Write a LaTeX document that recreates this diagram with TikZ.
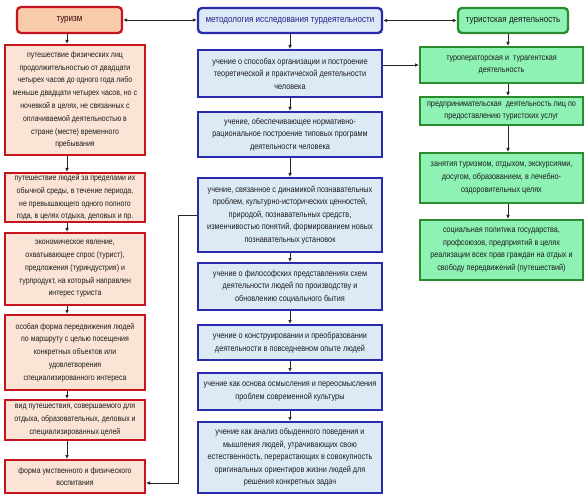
\documentclass[tikz,border=0pt]{standalone}
\usepackage{fontspec}
\setmainfont{Liberation Sans}[FakeStretch=0.85]
\usetikzlibrary{arrows.meta}
\definecolor{redline}{HTML}{C8141E}
\definecolor{redfill}{HTML}{FBE4D6}
\definecolor{redhead}{HTML}{F8CBAA}
\definecolor{blueline}{HTML}{2A2AAE}
\definecolor{bluefill}{HTML}{DCEAF6}
\definecolor{greenline}{HTML}{2E8A2E}
\definecolor{greenfill}{HTML}{8EF2B4}
\definecolor{txt}{HTML}{1C1C1C}
\begin{document}
\begin{tikzpicture}[x=1pt,y=-1pt,
  base/.style={draw, line width=2pt, align=center, inner sep=1pt, text=txt},
  rbox/.style={base, draw=redline, fill=redfill, font=\fontsize{8.2}{12.8}\selectfont},
  bbox/.style={base, draw=blueline, fill=bluefill, font=\fontsize{8.6}{12.5}\selectfont},
  gbox/.style={base, draw=greenline, fill=greenfill, font=\fontsize{8.5}{12.7}\selectfont},
  hfont/.style={font=\fontsize{9.5}{12}\selectfont},
  rhead/.style={rbox, fill=redhead, rounded corners=4pt, line width=2.3pt, hfont, text=black!70!redline},
  bhead/.style={bbox, rounded corners=4pt, line width=2.3pt, hfont, text=blueline!80!black},
  ghead/.style={gbox, rounded corners=4pt, line width=2.3pt, hfont},
  arr/.style={draw=black!85, line width=0.8pt, -{Latex[length=4pt,width=3.6pt]}},
  darr/.style={draw=black!85, line width=0.8pt, {Latex[length=4pt,width=3.6pt]}-{Latex[length=4pt,width=3.6pt]}}
]
\useasboundingbox (0,0) rectangle (585,502);
\fill[white] (0,0) rectangle (585,502);

% red column
\node[rhead, minimum width=105pt, minimum height=26pt] (r0) at (69.5,20) {туризм};
\node[rbox, minimum width=140pt, minimum height=110pt] (r1) at (75,100) {путешествие физических лиц\\продолжительностью от двадцати\\четырех часов до одного года либо\\меньше двадцати четырех часов, но с\\ночевкой в целях, не связанных с\\оплачиваемой деятельностью в\\стране (месте) временного\\пребывания};
\node[rbox, minimum width=140pt, minimum height=49pt] (r2) at (75,197.5) {путешествие людей за пределами их\\обычной среды, в течение периода,\\не превышающего одного полного\\года, в целях отдыха, деловых и пр.};
\node[rbox, minimum width=140pt, minimum height=72pt] (r3) at (75,269) {экономическое явление,\\охватывающее спрос (турист),\\предложения (туриндустрия) и\\турпродукт, на который направлен\\интерес туриста};
\node[rbox, minimum width=140pt, minimum height=75pt] (r4) at (75,352.5) {особая форма передвижения людей\\по маршруту с целью посещения\\конкретных объектов или\\удовлетворения\\специализированного интереса};
\node[rbox, minimum width=140pt, minimum height=40pt] (r5) at (75,420) {вид путешествия, совершаемого для\\отдыха, образовательных, деловых и\\специализированных целей};
\node[rbox, minimum width=140pt, minimum height=33pt] (r6) at (75,476.5) {форма умственного и физического\\воспитания};

% blue column
\node[bhead, minimum width=184pt, minimum height=25pt] (b0) at (290,20.5) {методология исследования турдеятельности};
\node[bbox, minimum width=184pt, minimum height=47pt] (b1) at (290,73.5) {учение о способах организации и построение\\теоретической и практической деятельности\\человека};
\node[bbox, minimum width=184pt, minimum height=45pt] (b2) at (290,134.5) {учение, обеспечивающее нормативно-\\рациональное построение типовых программ\\деятельности человека};
\node[bbox, minimum width=184pt, minimum height=74pt] (b3) at (290,215) {учение, связанное с динамикой познавательных\\проблем, культурно-исторических ценностей,\\природой, познавательных средств,\\изменчивостью понятий, формированием новых\\познавательных установок};
\node[bbox, minimum width=184pt, minimum height=47pt] (b4) at (290,286.5) {учение о философских представлениях схем\\деятельности людей по производству и\\обновлению социального бытия};
\node[bbox, minimum width=184pt, minimum height=35pt] (b5) at (290,342.5) {учение о конструировании и преобразовании\\деятельности в повседневном опыте людей};
\node[bbox, minimum width=184pt, minimum height=37pt] (b6) at (290,391.5) {учение как основа осмысления и переосмысления\\проблем современной культуры};
\node[bbox, minimum width=184pt, minimum height=71pt] (b7) at (290,457.5) {учение как анализ обыденного поведения и\\мышления людей, утрачивающих свою\\естественность, перерастающих в совокупность\\оригинальных ориентиров жизни людей для\\решения конкретных задач};

% green column
\node[ghead, minimum width=110pt, minimum height=25pt] (g0) at (513,20.5) {туристская деятельность};
\node[gbox, minimum width=163pt, minimum height=36pt] (g1) at (501.5,65) {туроператорская и\ \ турагентская\\деятельность};
\node[gbox, minimum width=163pt, minimum height=28pt] (g2) at (501.5,111) {предпринимательская\ \ деятельность лиц по\\предоставлению туристских услуг};
\node[gbox, minimum width=163pt, minimum height=50pt] (g3) at (501.5,178) {занятия туризмом, отдыхом, экскурсиями,\\досугом, образованием, в лечебно-\\оздоровительных целях};
\node[gbox, minimum width=163pt, minimum height=60pt] (g4) at (501.5,250) {социальная политика государства,\\профсоюзов, предприятий в целях\\реализации всех прав граждан на отдых и\\свободу передвижений (путешествий)};

% arrow columns
\coordinate (rx) at (67,0);
\coordinate (bx) at (290,0);
\coordinate (gx) at (508,0);
\coordinate (lp) at (178,483);

\foreach \a/\b in {r0/r1,r1/r2,r2/r3,r3/r4,r4/r5,r5/r6}
  \draw[arr] (\a.south -| rx) -- (\b.north -| rx);
\foreach \a/\b in {b0/b1,b1/b2,b2/b3,b3/b4,b4/b5,b5/b6,b6/b7}
  \draw[arr] (\a.south -| bx) -- (\b.north -| bx);
\foreach \a/\b in {g0/g1,g1/g2,g2/g3,g3/g4}
  \draw[arr] (\a.south -| gx) -- (\b.north -| gx);

\draw[darr] (r0.east) -- (r0.east -| b0.west);
\draw[darr] (b0.east) -- (b0.east -| g0.west);
\draw[arr] (b1.east |- g1.west) -- (g1.west);
\draw[arr] (b3.west) -- (b3.west -| lp) -- (lp) -- (lp -| r6.east);
\end{tikzpicture}
\end{document}
